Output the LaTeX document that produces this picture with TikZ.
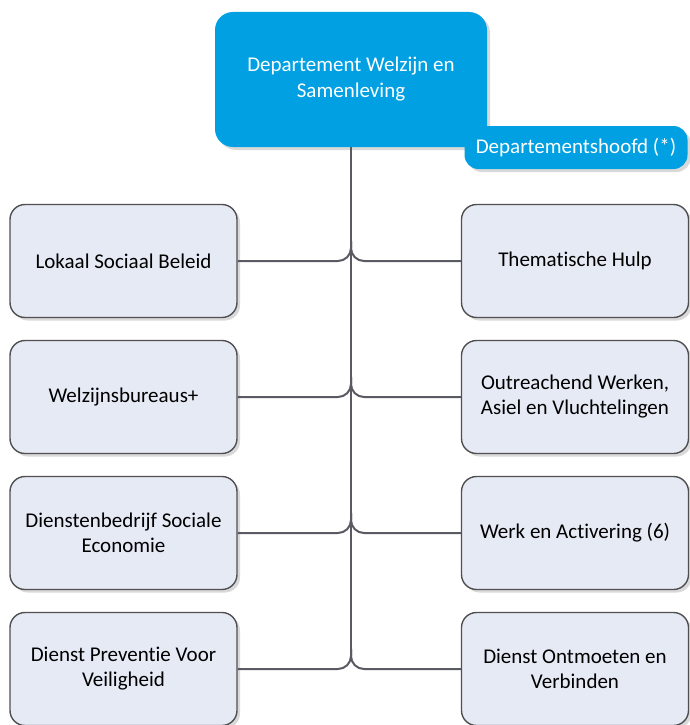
\documentclass[tikz,border=0pt]{standalone}
\usepackage{fontspec}
\setmainfont{Carlito}[Ligatures=NoCommon]
\usetikzlibrary{shadows}
\definecolor{welzijnblue}{HTML}{00A0E3}
\definecolor{unitfill}{HTML}{E6EAF5}
\definecolor{unitline}{HTML}{505050}
\definecolor{linkgrey}{HTML}{5A5A62}
\tikzset{
  softshadow/.style={drop shadow={shadow xshift=3pt, shadow yshift=-3pt, fill=black, opacity=0.15}},
  unit/.style={rectangle, draw=unitline, line width=1.4pt, fill=unitfill, rounded corners=15pt,
    minimum width=227pt, minimum height=113pt, align=center, text=black,
    font=\fontsize{21}{25}\selectfont, softshadow},
  headbox/.style={rectangle, fill=welzijnblue, rounded corners=18pt, minimum width=272pt,
    minimum height=135pt, align=center, text=white, font=\fontsize{21}{26}\selectfont, softshadow},
  headtab/.style={rectangle, fill=welzijnblue, rounded corners=14pt, minimum width=223pt,
    minimum height=43pt, text=white, font=\fontsize{21}{25}\selectfont, softshadow},
  link/.style={draw=linkgrey, line width=2pt, rounded corners=13pt}
}
\newcommand{\dienst}[3] {\node at (#1) (#2) [unit] {#3};}
\newcommand{\dienstlink}[3] {\draw [link] (#1.#3) -| ([yshift=20pt]#1.#3 -| #2.south);}

\begin{document}
\begin{tikzpicture}[x=1pt, y=-1pt]
\useasboundingbox (0,0) rectangle (689,725);

\node at (351,79.5) (dept) [headbox] {\raisebox{-2pt}{Departement Welzijn en}\\\raisebox{-2pt}{Samenleving}};
\node at (576,147.5) (hoofd) [headtab] {Departementshoofd (*)};

\dienst{123.5,261}{lsb}{Lokaal Sociaal Beleid}
\dienst{123.5,397}{wzb}{Welzijnsbureaus+}
\dienst{123.5,533}{dse}{Dienstenbedrijf Sociale\\Economie}
\dienst{123.5,669}{dpv}{Dienst Preventie Voor\\Veiligheid}
\dienst{575,261}{thh}{Thematische Hulp}
\dienst{575,397}{owa}{Outreachend Werken,\\Asiel en Vluchtelingen}
\dienst{575,533}{wea}{Werk en Activering (6)}
\dienst{575,669}{dov}{Dienst Ontmoeten en\\Verbinden}

% stam en aftakkingen
\draw [link] (dept.south) -- ([yshift=13pt]dpv.east -| dept.south);
\dienstlink{lsb}{dept}{east}
\dienstlink{wzb}{dept}{east}
\dienstlink{dse}{dept}{east}
\dienstlink{dpv}{dept}{east}
\dienstlink{thh}{dept}{west}
\dienstlink{owa}{dept}{west}
\dienstlink{wea}{dept}{west}
\dienstlink{dov}{dept}{west}

\end{tikzpicture}
\end{document}
